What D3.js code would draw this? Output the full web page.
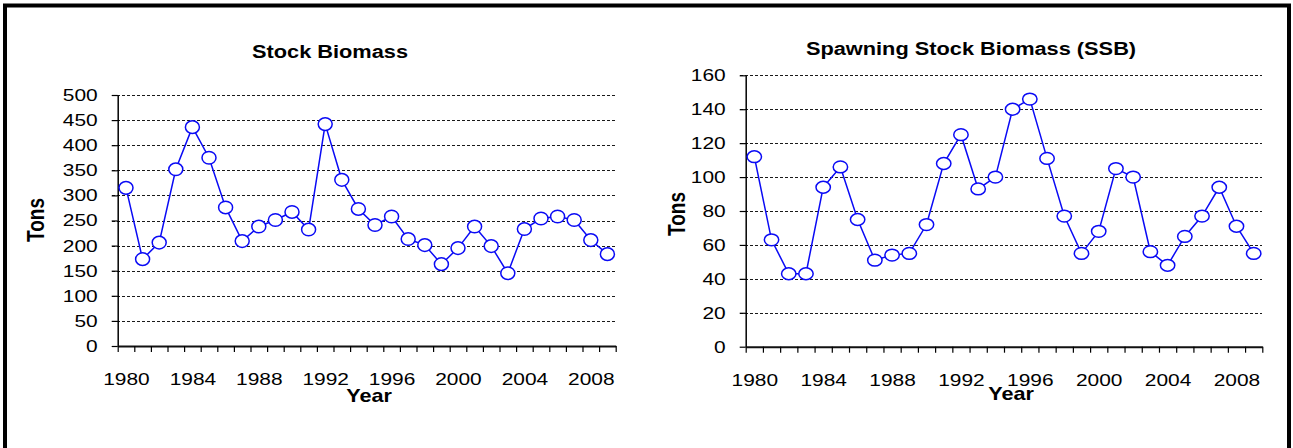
<!DOCTYPE html>
<html>
<head>
<meta charset="utf-8">
<script src="https://cdn.jsdelivr.net/npm/d3@7"></script>
<style>
  body { margin: 0; background: #fff; }
  text { font-family: "Liberation Sans", Arial, sans-serif; fill: #000; }
</style>
</head>
<body>
<div id="chart"></div>
<script>
// data
const years = [1980, 1981, 1982, 1983, 1984, 1985, 1986, 1987, 1988, 1989,
               1990, 1991, 1992, 1993, 1994, 1995, 1996, 1997, 1998, 1999,
               2000, 2001, 2002, 2003, 2004, 2005, 2006, 2007, 2008, 2009];
const yearLabels = [1980, 1984, 1988, 1992, 1996, 2000, 2004, 2008];

const stockBiomass = [315, 173, 206, 352, 436, 375, 276, 209, 238, 251,
                      267, 232, 442, 331, 273, 241, 258, 213, 201, 163,
                      195, 238, 199, 145, 233, 254, 258, 251, 211, 183];
const stockTicks = [0, 50, 100, 150, 200, 250, 300, 350, 400, 450, 500];

const ssb = [112, 63, 43, 43, 94, 106, 75, 51, 54, 55,
             72, 108, 125, 93, 100, 140, 146, 111, 77, 55,
             68, 105, 100, 56, 48, 65, 77, 94, 71, 55];
const ssbTicks = [0, 20, 40, 60, 80, 100, 120, 140, 160];

const W = 1293, H = 448;
const SX = 1.23; // the picture is stretched sideways, text too

const svg = d3.select("#chart").append("svg")
    .attr("width", W).attr("height", H);

// outer frame (bottom edge is off the picture)
svg.append("rect")
    .attr("x", 5).attr("y", 5.5)
    .attr("width", 1284).attr("height", 520)
    .attr("fill", "none").attr("stroke", "#000").attr("stroke-width", 4);

function label(x, y, txt, size, sx, rotate) {
    const t = svg.append("text")
        .attr("text-anchor", "middle")
        .attr("font-size", size)
        .attr("font-weight", "bold")
        .text(txt);
    if (rotate) t.attr("transform", `translate(${x},${y}) rotate(-90) scale(1,${sx})`);
    else t.attr("transform", `translate(${x},${y}) scale(${sx},1)`);
}

function drawPanel(p) {
    const g = svg.append("g");

    const x = d3.scaleLinear()
        .domain([years[0] - 0.5, years[years.length - 1] + 0.5])
        .range([p.x0, p.x1]);
    const y = d3.scaleLinear()
        .domain([0, p.yMax])
        .range([p.yBot, p.yTop]);

    // dashed gridlines
    g.selectAll(".grid")
        .data(p.ticks.filter(d => d > 0))
        .enter().append("line")
        .attr("x1", p.x0 - 6).attr("x2", p.x1)
        .attr("y1", d => Math.round(y(d)) + 0.5).attr("y2", d => Math.round(y(d)) + 0.5)
        .attr("stroke", "#1a1a1a").attr("stroke-width", 1)
        .attr("shape-rendering", "crispEdges")
        .attr("stroke-dasharray", "3,2");

    // y axis
    const yAxis = g.append("g")
        .attr("transform", `translate(${p.x0},0)`)
        .call(d3.axisLeft(y).tickValues(p.ticks).tickSize(6).tickSizeOuter(0).tickPadding(14));
    yAxis.select(".domain").attr("stroke", "#000").attr("stroke-width", 1.5);
    yAxis.selectAll(".tick line").attr("stroke", "#000").attr("stroke-width", 1.2);
    yAxis.selectAll("text")
        .attr("font-size", 17)
        .attr("font-family", "Liberation Sans, Arial, sans-serif")
        .attr("x", -20 / SX)
        .attr("transform", `scale(${SX},1)`);

    // x axis: tick marks between the years
    const bounds = years.map(d => d - 0.5).concat([years[years.length - 1] + 0.5]);
    const xAxis = g.append("g")
        .attr("transform", `translate(0,${p.yBot})`)
        .call(d3.axisBottom(x).tickValues(bounds).tickSize(6).tickSizeOuter(0).tickFormat(""));
    xAxis.select(".domain").attr("stroke", "#111").attr("stroke-width", 2);
    xAxis.selectAll(".tick line").attr("stroke", "#000").attr("stroke-width", 1.2);

    const xLab = g.append("g")
        .attr("transform", `translate(0,${p.yBot})`)
        .call(d3.axisBottom(x).tickValues(yearLabels).tickSize(0).tickPadding(27)
            .tickFormat(d3.format("d")));
    xLab.select(".domain").remove();
    xLab.selectAll("text")
        .attr("font-size", 17)
        .attr("font-family", "Liberation Sans, Arial, sans-serif")
        .attr("y", 27)
        .attr("transform", `scale(${SX},1)`);

    // series line
    const line = d3.line()
        .x((d, i) => x(years[i]))
        .y(d => y(d));
    g.append("path")
        .datum(p.values)
        .attr("d", line)
        .attr("fill", "none")
        .attr("stroke", "#0a0af5")
        .attr("stroke-width", 1.5);

    g.selectAll(".pt")
        .data(p.values)
        .enter().append("ellipse")
        .attr("cx", (d, i) => x(years[i]))
        .attr("cy", d => y(d))
        .attr("rx", p.rx).attr("ry", p.ry)
        .attr("fill", "#fff")
        .attr("stroke", "#0a0af5")
        .attr("stroke-width", 1.5);

    label(p.titleX, p.titleY, p.title, 18, 1.21, false);
    label(p.tonsX, p.tonsY, "Tons", 19, SX, true);
    label(p.yearX, p.yearY, "Year", 18, 1.2, false);
}

drawPanel({
    x0: 117.7, x1: 615.7, yTop: 95, yBot: 346,
    yMax: 500, ticks: stockTicks, values: stockBiomass,
    rx: 7, ry: 6.3,
    title: "Stock Biomass", titleX: 330, titleY: 58,
    tonsX: 44, tonsY: 220, yearX: 369, yearY: 402
});

drawPanel({
    x0: 745.7, x1: 1262.3, yTop: 75.3, yBot: 346.7,
    yMax: 160, ticks: ssbTicks, values: ssb,
    rx: 7.2, ry: 5.9,
    title: "Spawning Stock Biomass (SSB)", titleX: 971, titleY: 55,
    tonsX: 685, tonsY: 214, yearX: 1011, yearY: 400
});
</script>
</body>
</html>
